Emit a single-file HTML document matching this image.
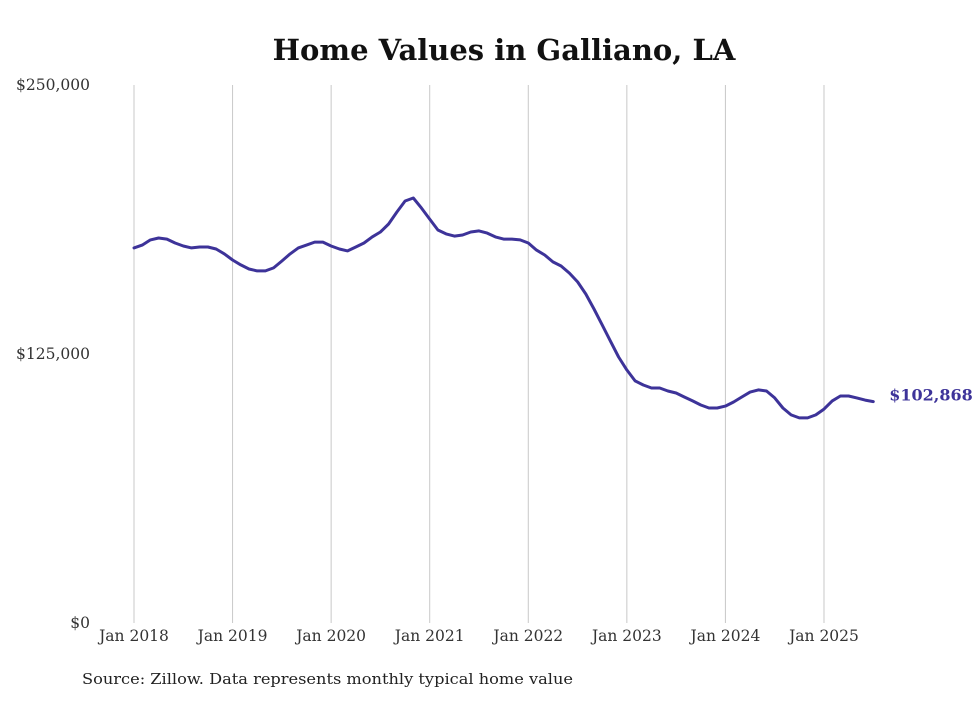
<!DOCTYPE html>
<html><head><meta charset="utf-8"><style>
body{margin:0;background:#fff;width:980px;height:699px;overflow:hidden;font-family:"DejaVu Serif","Liberation Serif",serif;}
</style></head><body>
<svg id="chart" width="980" height="699" xmlns="http://www.w3.org/2000/svg">
<text x="504" y="60" text-anchor="middle" font-size="29" font-weight="bold" fill="#111">Home Values in Galliano, LA</text>
<g id="grid"></g>
<g id="yaxis"></g>
<g id="xaxis"></g>
<g id="series"></g>
<text x="82" y="684" font-size="15" fill="#222" font-family="DejaVu Serif, serif" textLength="491" lengthAdjust="spacingAndGlyphs">Source: Zillow. Data represents monthly typical home value</text>
</svg>
<script>
const yTicks=[0,125000,250000];
const yTickLabels=["$0","$125,000","$250,000"];
const xTickYears=[2018,2019,2020,2021,2022,2023,2024,2025];
const xTickLabels=["Jan 2018","Jan 2019","Jan 2020","Jan 2021","Jan 2022","Jan 2023","Jan 2024","Jan 2025"];
const startYear=2018;
const values=[174.3,175.6,178.0,178.9,178.4,176.6,175.2,174.3,174.7,174.7,173.8,171.5,
168.7,166.4,164.5,163.6,163.6,165.0,168.2,171.5,174.3,175.6,177.0,177.0,
175.2,173.8,172.9,174.7,176.6,179.4,181.7,185.4,191.0,196.1,197.5,192.8,
187.7,182.6,180.8,179.8,180.3,181.7,182.2,181.2,179.4,178.4,178.4,178.0,
176.6,173.3,171.0,167.8,165.9,162.6,158.5,152.9,145.9,138.5,131.0,123.6,
117.6,112.5,110.6,109.2,109.2,107.8,106.9,105.0,103.2,101.3,99.9,99.9,
100.8,102.7,105.0,107.3,108.3,107.8,104.6,99.9,96.7,95.3,95.3,96.7,
99.4,103.2,105.5,105.5,104.6,103.6,102.868];
const lastLabel="$102,868";
const NS="http://www.w3.org/2000/svg";
const X0=134,PXY=98.57,Y0=623,Y1=85,MAXV=250000;
const xs=m=>X0+m*PXY/12;
const ys=v=>Y0-(v/MAXV)*(Y0-Y1);
function mk(t,a,p){const e=document.createElementNS(NS,t);for(const k in a)e.setAttribute(k,a[k]);p.appendChild(e);return e;}
const grid=document.getElementById('grid'),ya=document.getElementById('yaxis'),xa=document.getElementById('xaxis'),se=document.getElementById('series');
xTickYears.forEach((yr,i)=>{
 const x=xs((yr-startYear)*12);
 const l=mk('line',{x1:x,x2:x,y1:Y1,y2:Y0,stroke:'#c8c8c8','stroke-width':1},grid);
 
 
 const t=mk('text',{x:x,y:641,'text-anchor':'middle','font-size':15.5,fill:'#333'},xa);
 t.textContent=xTickLabels[i];
 
 
});
yTicks.forEach((v,i)=>{
 const t=mk('text',{x:90,y:ys(v)+5,'text-anchor':'end','font-size':15.5,fill:'#333'},ya);
 t.textContent=yTickLabels[i];
 
 
});
const d=values.map((v,i)=>(i?'L':'M')+xs(i).toFixed(1)+' '+ys(v*1000).toFixed(1)).join(' ');
const p=mk('path',{d:d,fill:'none',stroke:'#3d3399','stroke-width':3,'stroke-linejoin':'round','stroke-linecap':'round'},se);


const li=values.length-1;
const lt=mk('text',{x:xs(li)+16,y:ys(values[li]*1000)-1,'font-size':16,'font-weight':'bold',fill:'#3d3399'},se);
lt.textContent=lastLabel;


</script>
</body></html>
